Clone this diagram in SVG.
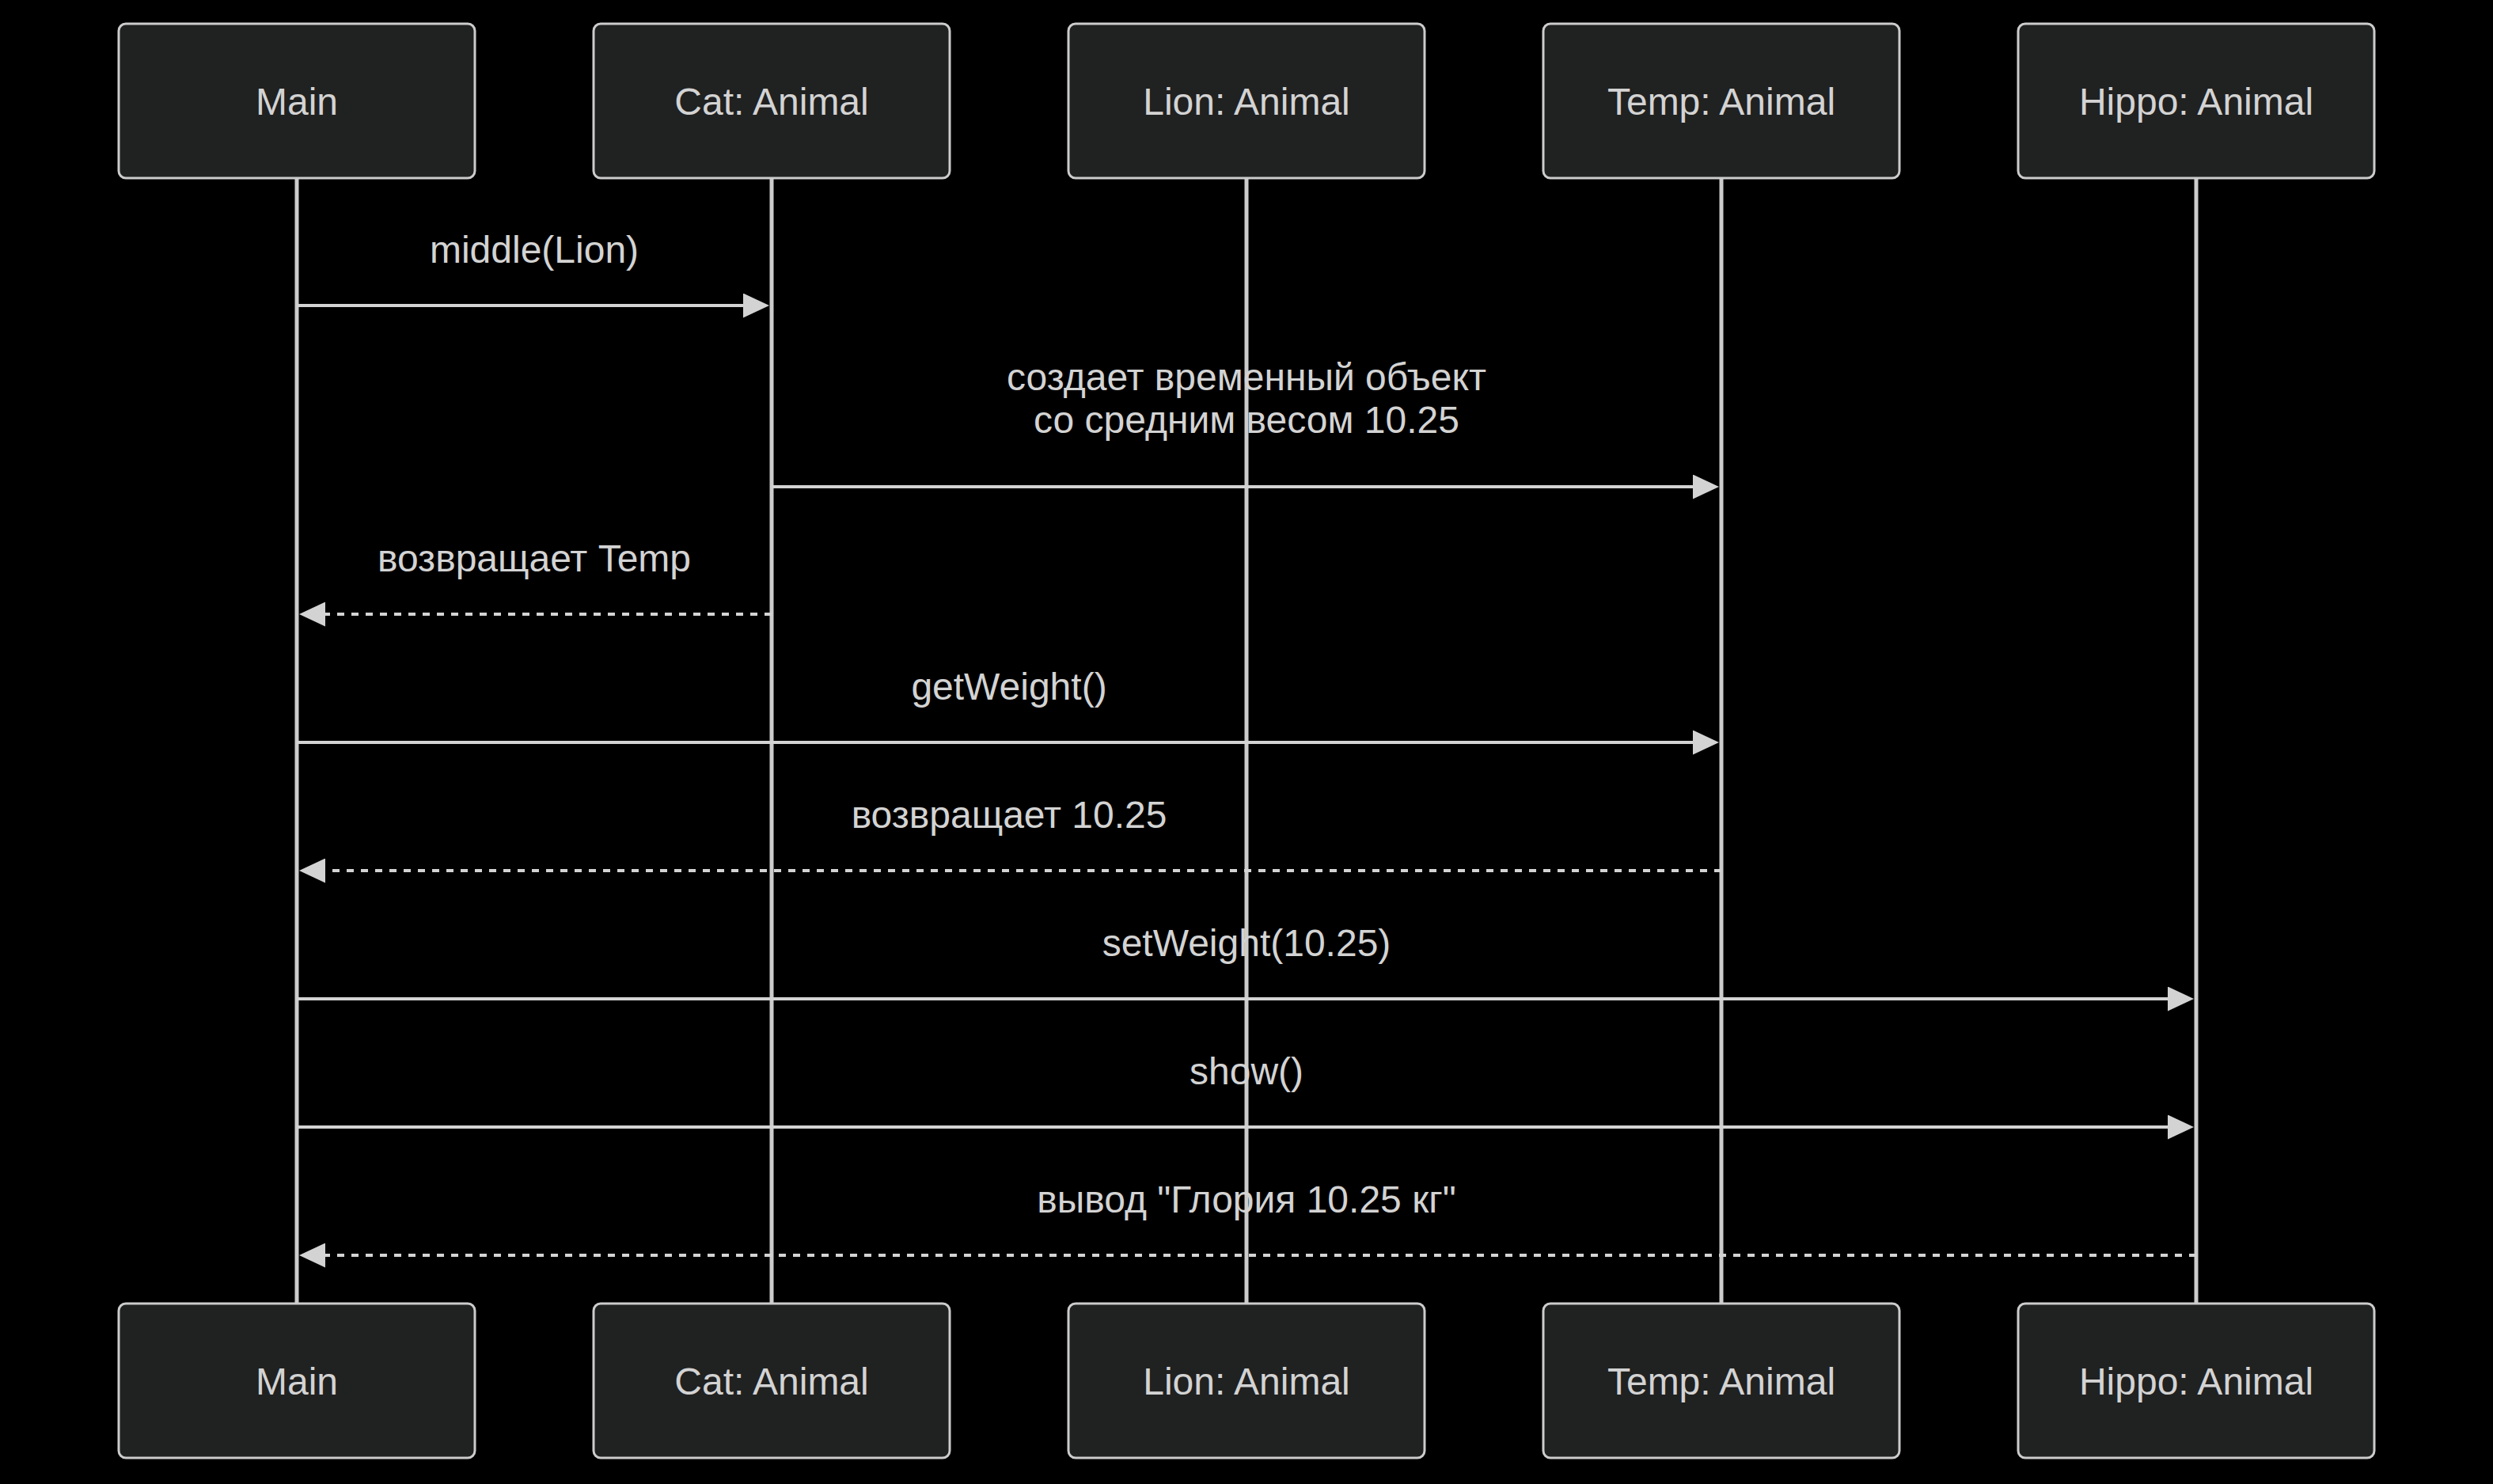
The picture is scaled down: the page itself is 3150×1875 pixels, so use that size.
<svg xmlns="http://www.w3.org/2000/svg" width="3150" height="1875" viewBox="0 0 3150 1875">
<style>
.actor{fill:#202121;stroke:#cccccc;stroke-width:3}
.atext{font-family:"Liberation Sans",Arial,sans-serif;font-size:48px;fill:#d3d3d3;text-anchor:middle}
.life{stroke:#cccccc;stroke-width:5}
.msg{stroke:#d3d3d3;stroke-width:4;fill:none;marker-end:url(#arrow)}
.dash{stroke-dasharray:9 9}
.mtext{font-family:"Liberation Sans",Arial,sans-serif;font-size:48px;fill:#d3d3d3;text-anchor:middle}
</style>
<defs>
<marker id="arrow" markerUnits="userSpaceOnUse" viewBox="0 0 33 31" refX="26" refY="15.5" markerWidth="33" markerHeight="31" orient="auto">
<path d="M0,0 L33,15.5 L0,31 z" fill="#d3d3d3"/>
</marker>
</defs>
<rect width="3150" height="1875" fill="#000000"/>
<g id="lifelines">
<line class="life" x1="375" y1="225" x2="375" y2="1647"/>
<line class="life" x1="975" y1="225" x2="975" y2="1647"/>
<line class="life" x1="1575" y1="225" x2="1575" y2="1647"/>
<line class="life" x1="2175" y1="225" x2="2175" y2="1647"/>
<line class="life" x1="2775" y1="225" x2="2775" y2="1647"/>
</g>
<g id="actor-main-top"><rect class="actor" x="150" y="30" width="450" height="195" rx="9"/><text class="atext" x="375" y="145">Main</text></g>
<g id="actor-cat-top"><rect class="actor" x="750" y="30" width="450" height="195" rx="9"/><text class="atext" x="975" y="145">Cat: Animal</text></g>
<g id="actor-lion-top"><rect class="actor" x="1350" y="30" width="450" height="195" rx="9"/><text class="atext" x="1575" y="145">Lion: Animal</text></g>
<g id="actor-temp-top"><rect class="actor" x="1950" y="30" width="450" height="195" rx="9"/><text class="atext" x="2175" y="145">Temp: Animal</text></g>
<g id="actor-hippo-top"><rect class="actor" x="2550" y="30" width="450" height="195" rx="9"/><text class="atext" x="2775" y="145">Hippo: Animal</text></g>
<g id="actor-main-bottom"><rect class="actor" x="150" y="1647" width="450" height="195" rx="9"/><text class="atext" x="375" y="1762">Main</text></g>
<g id="actor-cat-bottom"><rect class="actor" x="750" y="1647" width="450" height="195" rx="9"/><text class="atext" x="975" y="1762">Cat: Animal</text></g>
<g id="actor-lion-bottom"><rect class="actor" x="1350" y="1647" width="450" height="195" rx="9"/><text class="atext" x="1575" y="1762">Lion: Animal</text></g>
<g id="actor-temp-bottom"><rect class="actor" x="1950" y="1647" width="450" height="195" rx="9"/><text class="atext" x="2175" y="1762">Temp: Animal</text></g>
<g id="actor-hippo-bottom"><rect class="actor" x="2550" y="1647" width="450" height="195" rx="9"/><text class="atext" x="2775" y="1762">Hippo: Animal</text></g>
<g id="connectors">
<line class="msg" x1="375" y1="386" x2="965" y2="386"/>
<text class="mtext" x="675" y="332">middle(Lion)</text>
<line class="msg" x1="975" y1="615" x2="2165" y2="615"/>
<text class="mtext" x="1575" y="493">создает временный объект</text>
<text class="mtext" x="1575" y="547">со средним весом 10.25</text>
<line class="msg dash" x1="975" y1="776" x2="385" y2="776"/>
<text class="mtext" x="675" y="722">возвращает Temp</text>
<line class="msg" x1="375" y1="938" x2="2165" y2="938"/>
<text class="mtext" x="1275" y="884">getWeight()</text>
<line class="msg dash" x1="2175" y1="1100" x2="385" y2="1100"/>
<text class="mtext" x="1275" y="1046">возвращает 10.25</text>
<line class="msg" x1="375" y1="1262" x2="2765" y2="1262"/>
<text class="mtext" x="1575" y="1208">setWeight(10.25)</text>
<line class="msg" x1="375" y1="1424" x2="2765" y2="1424"/>
<text class="mtext" x="1575" y="1370">show()</text>
<line class="msg dash" x1="2775" y1="1586" x2="385" y2="1586"/>
<text class="mtext" x="1575" y="1532">вывод "Глория 10.25 кг"</text>
</g>
</svg>
